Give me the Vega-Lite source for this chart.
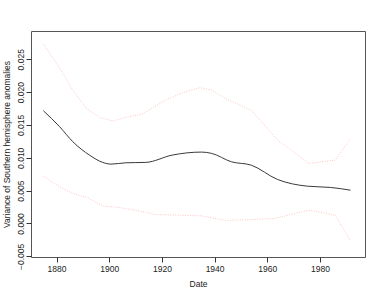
{
  "$schema": "https://vega.github.io/schema/vega-lite/v6.json",
  "width": 334,
  "height": 226,
  "autosize": {"type": "none"},
  "padding": {"left": 31, "top": 31, "right": 17, "bottom": 40},
  "background": "white",
  "config": {
    "font": "Liberation Sans",
    "view": {"stroke": "#555", "strokeWidth": 1},
    "axis": {"grid": false, "domain": false, "tickColor": "#333", "tickSize": 5, "labelFont": "Liberation Sans", "titleFont": "Liberation Sans", "labelFontSize": 8.5, "titleFontSize": 8.5, "titleFontWeight": "normal", "labelColor": "#222", "titleColor": "#222"}
  },
  "datasets": {
    "fit": [
      {"year": 1875.0, "value": 0.01716},
      {"year": 1881.2, "value": 0.01472},
      {"year": 1886.2, "value": 0.01244},
      {"year": 1892.5, "value": 0.01041},
      {"year": 1897.5, "value": 0.0093},
      {"year": 1900.7, "value": 0.00904},
      {"year": 1906.3, "value": 0.00924},
      {"year": 1913.9, "value": 0.0093},
      {"year": 1923.9, "value": 0.01041},
      {"year": 1935.1, "value": 0.01087},
      {"year": 1938.9, "value": 0.01067},
      {"year": 1946.4, "value": 0.00939},
      {"year": 1953.9, "value": 0.00888},
      {"year": 1963.9, "value": 0.0067},
      {"year": 1975.2, "value": 0.00568},
      {"year": 1984.0, "value": 0.00549},
      {"year": 1991.6, "value": 0.00507}
    ],
    "bands": [
      {"band": "upper", "year": 1875.0, "value": 0.02733},
      {"band": "upper", "year": 1880.0, "value": 0.02438},
      {"band": "upper", "year": 1886.2, "value": 0.02031},
      {"band": "upper", "year": 1891.3, "value": 0.01753},
      {"band": "upper", "year": 1896.3, "value": 0.01615},
      {"band": "upper", "year": 1901.3, "value": 0.01559},
      {"band": "upper", "year": 1906.3, "value": 0.01615},
      {"band": "upper", "year": 1912.6, "value": 0.01666},
      {"band": "upper", "year": 1921.4, "value": 0.01879},
      {"band": "upper", "year": 1928.9, "value": 0.02006},
      {"band": "upper", "year": 1934.5, "value": 0.02067},
      {"band": "upper", "year": 1938.9, "value": 0.02031},
      {"band": "upper", "year": 1945.2, "value": 0.01879},
      {"band": "upper", "year": 1953.9, "value": 0.01727},
      {"band": "upper", "year": 1963.9, "value": 0.0127},
      {"band": "upper", "year": 1975.9, "value": 0.00914},
      {"band": "upper", "year": 1985.9, "value": 0.00965},
      {"band": "upper", "year": 1991.6, "value": 0.01295},
      {"band": "lower", "year": 1875.0, "value": 0.00721},
      {"band": "lower", "year": 1881.2, "value": 0.00558},
      {"band": "lower", "year": 1886.2, "value": 0.00457},
      {"band": "lower", "year": 1891.9, "value": 0.0039},
      {"band": "lower", "year": 1897.5, "value": 0.00268},
      {"band": "lower", "year": 1903.8, "value": 0.00244},
      {"band": "lower", "year": 1911.3, "value": 0.00192},
      {"band": "lower", "year": 1917.6, "value": 0.00137},
      {"band": "lower", "year": 1926.4, "value": 0.00126},
      {"band": "lower", "year": 1935.1, "value": 0.00116},
      {"band": "lower", "year": 1944.5, "value": 0.00046},
      {"band": "lower", "year": 1953.9, "value": 0.00061},
      {"band": "lower", "year": 1962.8, "value": 0.00076},
      {"band": "lower", "year": 1970.3, "value": 0.00152},
      {"band": "lower", "year": 1975.9, "value": 0.00203},
      {"band": "lower", "year": 1985.9, "value": 0.00126},
      {"band": "lower", "year": 1991.6, "value": -0.0027}
    ]
  },
  "encoding": {
    "x": {
      "field": "year", "type": "quantitative", "title": "Date",
      "scale": {"domain": [1870.3, 1997.1], "nice": false, "zero": false},
      "axis": {"values": [1880, 1900, 1920, 1940, 1960, 1980], "format": "d", "labelPadding": 2, "titlePadding": 7}
    },
    "y": {
      "field": "value", "type": "quantitative", "title": "Variance of Southern hemisphere anomalies",
      "scale": {"domain": [-0.0051, 0.0293], "nice": false, "zero": false},
      "axis": {"values": [-0.005, 0, 0.005, 0.01, 0.015, 0.02, 0.025], "format": ".3f", "labelAngle": 270, "labelAlign": "center", "labelBaseline": "bottom", "labelPadding": 1, "titlePadding": 5}
    }
  },
  "layer": [
    {
      "data": {"name": "bands"},
      "mark": {"type": "line", "color": "#ff0000", "strokeWidth": 0.8, "strokeDash": [1, 1.5], "opacity": 0.3},
      "encoding": {"detail": {"field": "band"}}
    },
    {
      "data": {"name": "fit"},
      "mark": {"type": "line", "color": "#3a3a3a", "strokeWidth": 1, "interpolate": "monotone"}
    }
  ]
}
